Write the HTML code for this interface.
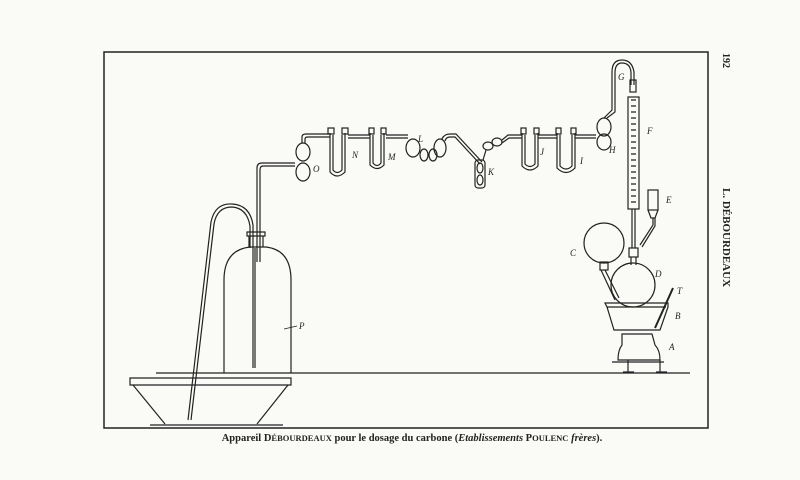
<!DOCTYPE html>
<html><head><meta charset="utf-8"><style>
body{margin:0;background:#fafaf7;}
svg{display:block}
text{font-family:"Liberation Serif",serif;}
</style></head><body>
<svg width="800" height="480" viewBox="0 0 800 480" xmlns="http://www.w3.org/2000/svg">
<rect width="800" height="480" fill="#fafaf7"/>
<g fill="none" stroke="#222" stroke-width="1.2">
<rect x="104" y="52" width="604" height="376" stroke-width="1.5"/>
<line x1="156" y1="373" x2="690" y2="373" stroke-width="1.3"/>
<!-- basin -->
<path d="M130 378 H291 V385 H130 Z"/>
<path d="M133 385 L165 424 M288 385 L257 424 M150 425 H283"/>
<!-- bottle -->
<path d="M224 373 V280 Q224 250 250 247 H266 Q291 250 291 280 V373"/>
<path d="M247 232 H265 V236 H247 Z M249 236 V247 M263 236 V247"/>
<!-- siphon -->
<path d="M188 420 L211 222 Q215 203 232 204 Q250 205 253 225 V248"/>
<path d="M191 420 L214 224 Q217 207 232 207 Q247 208 250 226 V248"/>
<line x1="253" y1="248" x2="253" y2="368"/><line x1="255" y1="248" x2="255" y2="368"/>
<!-- tube from bottle to O -->
<path d="M257 262 V168 Q257 163 262 163 H295"/>
<path d="M260 262 V170 Q260 166 263 166 H295"/>
<ellipse cx="303" cy="152" rx="7" ry="9"/>
<ellipse cx="303" cy="172" rx="7" ry="9"/>
<path d="M302 143 V137 Q302 134 306 134 H330"/>
<path d="M305 143 V139 Q305 137 308 137 H330"/>
<!-- N -->
<path d="M330 133 V172 Q337 180 345 172 V133"/>
<path d="M333 135 V170 Q337 175 342 170 V135"/>
<rect x="328" y="128" width="6" height="6"/><rect x="342" y="128" width="6" height="6"/>
<line x1="348" y1="135" x2="370" y2="135"/><line x1="348" y1="138" x2="370" y2="138"/>
<!-- M -->
<path d="M370 133 V165 Q377 172 384 165 V133"/>
<path d="M373 135 V163 Q377 168 381 163 V135"/>
<rect x="369" y="128" width="5" height="6"/><rect x="381" y="128" width="5" height="6"/>
<line x1="386" y1="135" x2="408" y2="135"/><line x1="386" y1="138" x2="408" y2="138"/>
<!-- L -->
<ellipse cx="413" cy="148" rx="7" ry="9"/>
<ellipse cx="424" cy="155" rx="4" ry="6"/>
<ellipse cx="433" cy="155" rx="4" ry="6"/>
<ellipse cx="440" cy="148" rx="6" ry="9"/>
<path d="M442 139 Q444 134 450 134 H456 L482 162"/>
<path d="M445 141 Q446 137 450 137 H455 L480 164"/>
<!-- K -->
<rect x="475" y="160" width="10" height="28" rx="3"/>
<ellipse cx="480" cy="168" rx="3" ry="5"/><ellipse cx="480" cy="180" rx="3" ry="5"/>
<path d="M483 160 L486 150"/>
<ellipse cx="488" cy="146" rx="5" ry="4"/>
<ellipse cx="497" cy="142" rx="5" ry="4"/>
<path d="M502 140 L508 135 H522"/><path d="M502 143 L509 138 H522"/>
<!-- J -->
<path d="M522 133 V166 Q530 174 538 166 V133"/>
<path d="M525 135 V164 Q530 169 535 164 V135"/>
<rect x="521" y="128" width="5" height="6"/><rect x="534" y="128" width="5" height="6"/>
<line x1="538" y1="135" x2="557" y2="135"/><line x1="538" y1="138" x2="557" y2="138"/>
<!-- I -->
<path d="M557 133 V168 Q566 177 575 168 V133"/>
<path d="M560 135 V166 Q566 172 572 166 V135"/>
<rect x="556" y="128" width="5" height="6"/><rect x="571" y="128" width="5" height="6"/>
<line x1="575" y1="135" x2="596" y2="135"/><line x1="575" y1="138" x2="596" y2="138"/>
<!-- H -->
<ellipse cx="604" cy="127" rx="7" ry="9"/>
<ellipse cx="604" cy="142" rx="7" ry="8"/>
<path d="M604 118 L612 110 V72 Q612 60 622 60 Q632 60 634 72 V85"/>
<path d="M607 118 L615 112 V73 Q615 63 622 63 Q630 63 631 72 V85"/>
<!-- F condenser -->
<rect x="630" y="80" width="6" height="12"/>
<rect x="628" y="97" width="11" height="112"/>
<path d="M631 100 h5 M631 106 h5 M631 112 h5 M631 118 h5 M631 124 h5 M631 130 h5 M631 136 h5 M631 142 h5 M631 148 h5 M631 154 h5 M631 160 h5 M631 166 h5 M631 172 h5 M631 178 h5 M631 184 h5 M631 190 h5 M631 196 h5 M631 202 h5"/>
<line x1="632" y1="209" x2="632" y2="248"/><line x1="635" y1="209" x2="635" y2="248"/>
<!-- E -->
<rect x="648" y="190" width="10" height="20"/>
<path d="M648 210 L651 218 H655 L658 210"/>
<path d="M653 218 V225 L640 245"/><path d="M655 218 V226 L642 247"/>
<!-- D -->
<rect x="629" y="248" width="9" height="9"/>
<line x1="631" y1="257" x2="631" y2="265"/><line x1="636" y1="257" x2="636" y2="265"/>
<circle cx="633" cy="285" r="22"/>
<!-- C -->
<circle cx="604" cy="243" r="20"/>
<rect x="600" y="262" width="8" height="8"/>
<path d="M601 270 L615 300"/><path d="M605 270 L619 298"/>
<!-- T -->
<path d="M655 328 L673 288" stroke-width="2"/>
<!-- B -->
<path d="M605 303 H668 V307 L660 330 H614 L607 307 Z"/>
<line x1="607" y1="307" x2="666" y2="307"/>
<!-- A -->
<path d="M622 334 H652 L655 345 Q660 350 660 360 H618 Q618 350 622 345 Z"/>
<path d="M612 362 H664 M628 360 V372 M660 360 V372 M623 372 H634 M656 372 H667"/>
</g>
<g font-size="9" font-style="italic" fill="#222">
<text x="313" y="172">O</text><text x="352" y="158">N</text><text x="388" y="160">M</text>
<text x="418" y="142">L</text><text x="488" y="175">K</text><text x="540" y="155">J</text>
<text x="580" y="164">I</text><text x="609" y="153">H</text><text x="618" y="80">G</text>
<text x="647" y="134">F</text><text x="666" y="203">E</text><text x="570" y="256">C</text>
<text x="655" y="277">D</text><text x="677" y="294">T</text><text x="675" y="319">B</text>
<text x="669" y="350">A</text><text x="299" y="329">P</text>
</g>
<line x1="284" y1="329" x2="297" y2="326" stroke="#222" stroke-width="0.8"/>
<text x="412" y="441" font-size="10.5" font-weight="bold" text-anchor="middle" fill="#222">Appareil D<tspan font-size="8.5">ÉBOURDEAUX</tspan> pour le dosage du carbone (<tspan font-style="italic">Etablissements</tspan> P<tspan font-size="8.5">OULENC</tspan> <tspan font-style="italic">frères</tspan>).</text>
<text transform="translate(723,188) rotate(90)" font-size="11" font-weight="bold" fill="#222">L. DÉBOURDEAUX</text>
<text transform="translate(723,53) rotate(90)" font-size="10" font-weight="bold" fill="#222">192</text>
</svg>
</body></html>
